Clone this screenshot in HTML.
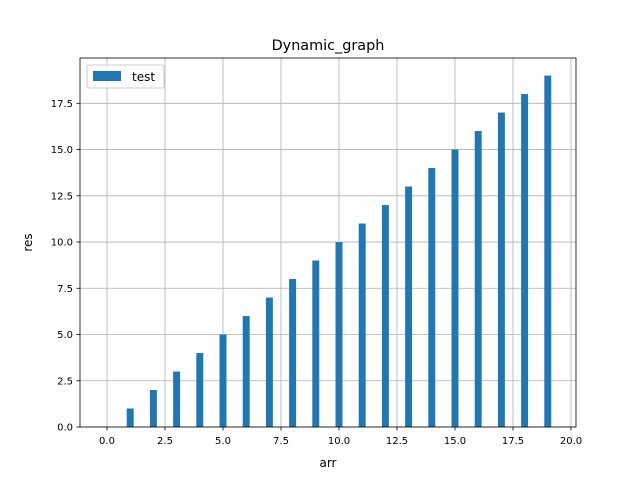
<!DOCTYPE html>
<html><head><meta charset="utf-8"><style>
body{margin:0;background:#fff}
svg text{font-family:"DejaVu Sans","Liberation Sans",sans-serif;fill:#000}
</style></head><body>
<svg width="640" height="480" viewBox="0 0 640 480">
<rect width="640" height="480" fill="#fff"/>
<g id="grid"></g>
<g id="bars"></g>
<rect x="80" y="58" width="496" height="369" fill="none" stroke="#000" stroke-width="0.8"/>
<g id="ticks"></g>
<text x="328" y="50" font-size="14.4" text-anchor="middle">Dynamic_graph</text>
<text x="328" y="467" font-size="12" text-anchor="middle">arr</text>
<text transform="translate(32,242.5) rotate(-90)" font-size="12" text-anchor="middle">res</text>
<g>
<rect x="87" y="65" width="77" height="23" rx="2" fill="#fff" fill-opacity="0.8" stroke="#ccc"/>
<rect x="93" y="71" width="28" height="10" fill="#1f77b4"/>
<text x="132" y="81" font-size="12">test</text>
</g>
</svg>
<script>
const categories=[0,1,2,3,4,5,6,7,8,9,10,11,12,13,14,15,16,17,18,19];
const values=[0,1,2,3,4,5,6,7,8,9,10,11,12,13,14,15,16,17,18,19];
const xTicks=[0,2.5,5,7.5,10,12.5,15,17.5,20];
const yTicks=[0,2.5,5,7.5,10,12.5,15,17.5];
const NS="http://www.w3.org/2000/svg";
const L=80,R=576,T=58,B=427,xmin=-1.164,xmax=20.216,ymin=0,ymax=19.95,bw=0.3;
const xs=v=>L+(v-xmin)/(xmax-xmin)*(R-L);
const ys=v=>B-(v-ymin)/(ymax-ymin)*(B-T);
function mk(t,a,p){const e=document.createElementNS(NS,t);for(const k in a)e.setAttribute(k,a[k]);p.appendChild(e);return e;}
const g=document.getElementById('grid'),bg=document.getElementById('bars'),tk=document.getElementById('ticks');
xTicks.forEach(v=>{const x=xs(v);
const gl=mk('line',{x1:x,x2:x,y1:T,y2:B,stroke:'#b0b0b0','stroke-width':0.8},g);

mk('line',{x1:x,x2:x,y1:B,y2:B+3.5,stroke:'#000','stroke-width':0.8},tk);
const t=mk('text',{x:x,y:B+17,'font-size':10,'text-anchor':'middle'},tk);t.textContent=v.toFixed(1);
});
yTicks.forEach(v=>{const y=ys(v);
const gl=mk('line',{x1:L,x2:R,y1:y,y2:y,stroke:'#b0b0b0','stroke-width':0.8},g);

mk('line',{x1:L-3.5,x2:L,y1:y,y2:y,stroke:'#000','stroke-width':0.8},tk);
const t=mk('text',{x:L-7,y:y+3.5,'font-size':10,'text-anchor':'end'},tk);t.textContent=v.toFixed(1);
});
categories.forEach((c,i)=>{const x0=xs(c-bw/2),x1=xs(c+bw/2),y=ys(values[i]);
const r=mk('rect',{x:x0,y:y,width:x1-x0,height:ys(0)-y,fill:'#1f77b4'},bg);
});
</script>
</body></html>
